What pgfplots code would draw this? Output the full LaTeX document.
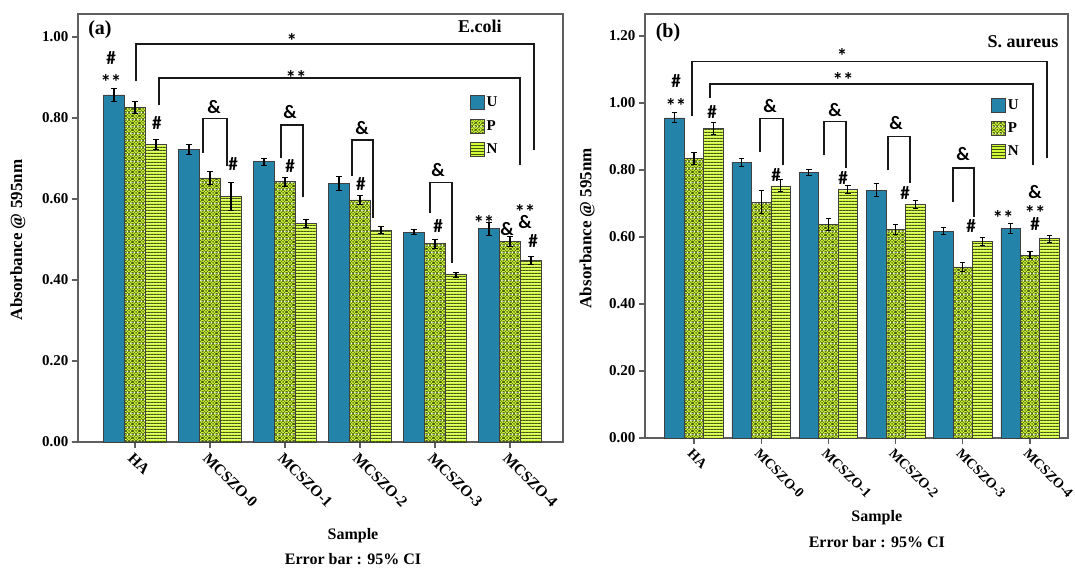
\documentclass[border=0pt]{standalone}
\usepackage{pgfplots}
\pgfplotsset{compat=1.18}
\usepackage{pgfplotstable}
\usetikzlibrary{patterns.meta}
\usepackage{fontspec}
\setmainfont{Liberation Serif}
\newfontfamily\annfont{Carlito}

\definecolor{ublue}{RGB}{35,131,168}
\definecolor{ygreen}{RGB}{212,250,55}
\definecolor{gdark}{RGB}{62,88,18}
\definecolor{framec}{RGB}{95,95,95}

\pgfdeclarepattern{
  name=Pcross,
  type=colored,
  bottom left={\pgfpoint{0pt}{0pt}},
  top right={\pgfpoint{7pt}{7pt}},
  tile size={\pgfpoint{7pt}{7pt}},
  code={
    \pgfsetfillcolor{ygreen}
    \pgfpathrectangle{\pgfpointorigin}{\pgfpoint{7pt}{7pt}}
    \pgfusepath{fill}
    \pgfsetstrokecolor{gdark}
    \pgfsetlinewidth{0.55pt}
    \pgfpathmoveto{\pgfpoint{2.5pt}{-1pt}}\pgfpathlineto{\pgfpoint{8pt}{4.5pt}}
    \pgfpathmoveto{\pgfpoint{-1pt}{2.5pt}}\pgfpathlineto{\pgfpoint{4.5pt}{8pt}}
    \pgfpathmoveto{\pgfpoint{-1pt}{4.5pt}}\pgfpathlineto{\pgfpoint{4.5pt}{-1pt}}
    \pgfpathmoveto{\pgfpoint{2.5pt}{8pt}}\pgfpathlineto{\pgfpoint{8pt}{2.5pt}}
    \pgfusepath{stroke}
    \pgfsetlinewidth{0.65pt}
    \pgfpathmoveto{\pgfpoint{2.5pt}{3.5pt}}\pgfpathlineto{\pgfpoint{4.5pt}{3.5pt}}
    \pgfpathmoveto{\pgfpoint{3.5pt}{2.5pt}}\pgfpathlineto{\pgfpoint{3.5pt}{4.5pt}}
    \pgfpathmoveto{\pgfpoint{-1pt}{0pt}}\pgfpathlineto{\pgfpoint{1pt}{0pt}}
    \pgfpathmoveto{\pgfpoint{0pt}{-1pt}}\pgfpathlineto{\pgfpoint{0pt}{1pt}}
    \pgfpathmoveto{\pgfpoint{6pt}{0pt}}\pgfpathlineto{\pgfpoint{8pt}{0pt}}
    \pgfpathmoveto{\pgfpoint{7pt}{-1pt}}\pgfpathlineto{\pgfpoint{7pt}{1pt}}
    \pgfpathmoveto{\pgfpoint{-1pt}{7pt}}\pgfpathlineto{\pgfpoint{1pt}{7pt}}
    \pgfpathmoveto{\pgfpoint{0pt}{6pt}}\pgfpathlineto{\pgfpoint{0pt}{8pt}}
    \pgfpathmoveto{\pgfpoint{6pt}{7pt}}\pgfpathlineto{\pgfpoint{8pt}{7pt}}
    \pgfpathmoveto{\pgfpoint{7pt}{6pt}}\pgfpathlineto{\pgfpoint{7pt}{8pt}}
    \pgfusepath{stroke}
  }
}
\pgfdeclarepattern{
  name=Nlines,
  type=colored,
  bottom left={\pgfpoint{0pt}{0pt}},
  top right={\pgfpoint{3.3pt}{3.3pt}},
  tile size={\pgfpoint{3.3pt}{3.3pt}},
  code={
    \pgfsetfillcolor{ygreen}
    \pgfpathrectangle{\pgfpointorigin}{\pgfpoint{3.3pt}{3.3pt}}
    \pgfusepath{fill}
    \pgfsetfillcolor{gdark}
    \pgfpathrectangle{\pgfpointorigin}{\pgfpoint{3.3pt}{1.0pt}}
    \pgfusepath{fill}
  }
}

\pgfplotstableread{
x U Ue P Pe N Ne
0 0.857 0.015 0.826 0.014 0.735 0.013
1 0.722 0.012 0.652 0.016 0.607 0.035
2 0.692 0.009 0.643 0.011 0.540 0.010
3 0.639 0.018 0.598 0.012 0.524 0.009
4 0.518 0.006 0.490 0.011 0.413 0.006
5 0.527 0.016 0.496 0.012 0.448 0.009
}\ecoli

\pgfplotstableread{
x U Ue P Pe N Ne
0 0.956 0.015 0.834 0.018 0.924 0.019
1 0.823 0.012 0.704 0.035 0.753 0.018
2 0.793 0.009 0.638 0.017 0.743 0.012
3 0.740 0.020 0.623 0.016 0.697 0.011
4 0.618 0.010 0.511 0.013 0.587 0.011
5 0.627 0.015 0.546 0.010 0.595 0.010
}\saureus

\newcommand\ann{\annfont\bfseries\fontsize{19}{20}\selectfont}
\newcommand\annst{\annfont\bfseries\fontsize{21}{22}\selectfont}
\newcommand\tickf{\bfseries\fontsize{15}{17}\selectfont}
\newcommand\xtickf{\bfseries\fontsize{15.5}{17}\selectfont}

\tikzset{brk/.style={black!90, line width=1.2pt}}

\pgfplotsset{
  panel/.style={
    scale only axis, clip=false,
    ymin=0,
    xtick={0,...,5},
    xticklabels={HA,MCSZO-0,MCSZO-1,MCSZO-2,MCSZO-3,MCSZO-4},
    tick align=outside, tick pos=left,
    axis line style={draw=framec, line width=1.3pt},
    major tick style={draw=framec, line width=1.2pt},
    major tick length=6pt,
    /pgf/number format/.cd, fixed, fixed zerofill, precision=2, assume math mode=true,
    /pgfplots/.cd,
    yticklabel style={font=\tickf},
    xticklabel style={font=\xtickf, rotate=-45, anchor=north west, inner sep=1pt, xshift=1pt, yshift=-2pt},
    legend style={draw=none, fill=none, inner sep=0pt, font=\tickf,
      row sep=8pt, legend cell align=left,
      /tikz/every even column/.append style={column sep=3pt}},
  },
  sqleg/.style={legend image code/.code={\draw[##1] (0pt,-7pt) rectangle (14pt,7pt);}},
  ebar/.style={error bars/.cd, y dir=both, y explicit,
    error bar style={black, line width=1.1pt},
    error mark options={rotate=90, black, mark size=2.6pt, line width=0.9pt}},
  barU/.style={ybar, bar width=#1, bar shift=0pt, fill=ublue, draw=black!75, line width=0.6pt, sqleg, ebar},
  barP/.style={ybar, bar width=#1, bar shift=0pt, pattern=Pcross, draw=black!75, line width=0.6pt, sqleg, ebar},
  barN/.style={ybar, bar width=#1, bar shift=0pt, pattern=Nlines, draw=black!75, line width=0.6pt, sqleg, ebar},
}

\begin{document}
\begin{tikzpicture}
\useasboundingbox (0,0) rectangle (1075pt,567pt);

% ---------------- Panel (a)
\begin{axis}[panel, at={(78pt,125pt)}, anchor=south west,
  width=485pt, height=428pt,
  xmin=-0.76, xmax=5.707, ymax=1.057,
  ytick={0,0.2,0.4,0.6,0.8,1.0},
  legend style={at={(0.808,0.811)}, anchor=north west}]
\addplot[barU=0.28] table[x expr=\thisrow{x}-0.28, y=U, y error=Ue]{\ecoli};
\addplot[barP=0.28] table[x expr=\thisrow{x}, y=P, y error=Pe]{\ecoli};
\addplot[barN=0.28] table[x expr=\thisrow{x}+0.28, y=N, y error=Ne]{\ecoli};
\legend{U,P,N}

\node[font=\bfseries\fontsize{20}{22}\selectfont] at (axis cs:-0.467,1.017) {(a)};
\node[font=\bfseries\fontsize{18}{20}\selectfont] at (axis cs:4.6,1.027) {E.coli};
% brackets
\draw[brk] (axis cs:0.013,0.891) -- (axis cs:0.013,0.983) -- (axis cs:5.32,0.983) -- (axis cs:5.32,0.721);
\draw[brk] (axis cs:0.32,0.832) -- (axis cs:0.32,0.899) -- (axis cs:5.133,0.899) -- (axis cs:5.133,0.684);
\node[font=\annst] at (axis cs:2.093,0.990) {*};
\node[font=\annst] at (axis cs:2.147,0.900) {**};
\draw[brk] (axis cs:0.907,0.714) -- (axis cs:0.907,0.798) -- (axis cs:1.227,0.798) -- (axis cs:1.227,0.681);
\draw[brk] (axis cs:1.947,0.701) -- (axis cs:1.947,0.783) -- (axis cs:2.24,0.783) -- (axis cs:2.24,0.605);
\draw[brk] (axis cs:2.893,0.657) -- (axis cs:2.893,0.746) -- (axis cs:3.173,0.746) -- (axis cs:3.173,0.553);
\draw[brk] (axis cs:3.933,0.565) -- (axis cs:3.933,0.640) -- (axis cs:4.227,0.640) -- (axis cs:4.227,0.442);
% marks
\node[font=\ann] at (axis cs:-0.32,0.948) {\#};
\node[font=\annst] at (axis cs:-0.32,0.888) {**};
\node[font=\ann] at (axis cs:0.293,0.788) {\#};
\node[font=\ann] at (axis cs:1.053,0.827) {\&};
\node[font=\ann] at (axis cs:1.307,0.686) {\#};
\node[font=\ann] at (axis cs:2.067,0.815) {\&};
\node[font=\ann] at (axis cs:2.067,0.681) {\#};
\node[font=\ann] at (axis cs:3.027,0.775) {\&};
\node[font=\ann] at (axis cs:3.013,0.637) {\#};
\node[font=\ann] at (axis cs:4.04,0.672) {\&};
\node[font=\ann] at (axis cs:4.04,0.533) {\#};
\node[font=\annst] at (axis cs:4.653,0.540) {**};
\node[font=\ann] at (axis cs:4.96,0.526) {\&};
\node[font=\annst] at (axis cs:5.2,0.569) {**};
\node[font=\ann] at (axis cs:5.2,0.543) {\&};
\node[font=\ann] at (axis cs:5.307,0.496) {\#};
% axis texts
\node[font=\bfseries\fontsize{17}{19}\selectfont, rotate=90] at (rel axis cs:-0.124,0.472) {Absorbance @ 595nm};
\node[font=\bfseries\fontsize{16}{18}\selectfont] at (rel axis cs:0.567,-0.219) {Sample};
\node[font=\bfseries\fontsize{16}{18}\selectfont] at (rel axis cs:0.567,-0.274) {Error bar : 95\% CI};
\end{axis}

% ---------------- Panel (b)
\begin{axis}[panel, at={(645pt,129pt)}, anchor=south west,
  width=423pt, height=424pt,
  xmin=-0.729, xmax=5.565, ymax=1.266,
  ytick={0,0.2,0.4,0.6,0.8,1.0,1.2},
  xticklabel style={font=\bfseries\fontsize{14}{16}\selectfont},
  legend style={at={(0.818,0.804)}, anchor=north west}]
\addplot[barU=0.29] table[x expr=\thisrow{x}-0.29, y=U, y error=Ue]{\saureus};
\addplot[barP=0.29] table[x expr=\thisrow{x}, y=P, y error=Pe]{\saureus};
\addplot[barN=0.29] table[x expr=\thisrow{x}+0.29, y=N, y error=Ne]{\saureus};
\legend{U,P,N}

\node[font=\bfseries\fontsize{20}{22}\selectfont] at (axis cs:-0.387,1.209) {(b)};
\node[font=\bfseries\fontsize{18}{20}\selectfont] at (axis cs:4.896,1.182) {S. aureus};
\draw[brk] (axis cs:-0.03,0.961) -- (axis cs:-0.03,1.125) -- (axis cs:5.253,1.125) -- (axis cs:5.253,0.836);
\draw[brk] (axis cs:0.238,1.015) -- (axis cs:0.238,1.057) -- (axis cs:5.045,1.057) -- (axis cs:5.045,0.815);
\node[font=\annst] at (axis cs:2.202,1.141) {*};
\node[font=\annst] at (axis cs:2.217,1.070) {**};
\draw[brk] (axis cs:0.982,0.854) -- (axis cs:0.982,0.955) -- (axis cs:1.324,0.955) -- (axis cs:1.324,0.815);
\draw[brk] (axis cs:1.935,0.845) -- (axis cs:1.935,0.946) -- (axis cs:2.262,0.946) -- (axis cs:2.262,0.806);
\draw[brk] (axis cs:2.887,0.800) -- (axis cs:2.887,0.901) -- (axis cs:3.214,0.901) -- (axis cs:3.214,0.761);
\draw[brk] (axis cs:3.854,0.704) -- (axis cs:3.854,0.806) -- (axis cs:4.167,0.806) -- (axis cs:4.167,0.660);
\node[font=\ann] at (axis cs:-0.268,1.066) {\#};
\node[font=\annst] at (axis cs:-0.268,0.992) {**};
\node[font=\ann] at (axis cs:0.268,0.973) {\#};
\node[font=\ann] at (axis cs:1.131,0.991) {\&};
\node[font=\ann] at (axis cs:1.22,0.785) {\#};
\node[font=\ann] at (axis cs:2.098,0.979) {\&};
\node[font=\ann] at (axis cs:2.217,0.776) {\#};
\node[font=\ann] at (axis cs:3.006,0.940) {\&};
\node[font=\ann] at (axis cs:3.14,0.731) {\#};
\node[font=\ann] at (axis cs:4.003,0.848) {\&};
\node[font=\ann] at (axis cs:4.122,0.633) {\#};
\node[font=\ann] at (axis cs:5.074,0.734) {\&};
\node[font=\annst] at (axis cs:5.074,0.673) {**};
\node[font=\ann] at (axis cs:5.074,0.638) {\#};
\node[font=\annst] at (axis cs:4.598,0.658) {**};
\node[font=\bfseries\fontsize{17}{19}\selectfont, rotate=90] at (rel axis cs:-0.137,0.495) {Absorbance @ 595nm};
\node[font=\bfseries\fontsize{16}{18}\selectfont] at (rel axis cs:0.548,-0.189) {Sample};
\node[font=\bfseries\fontsize{16}{18}\selectfont] at (rel axis cs:0.548,-0.245) {Error bar : 95\% CI};
\end{axis}
\end{tikzpicture}
\end{document}
